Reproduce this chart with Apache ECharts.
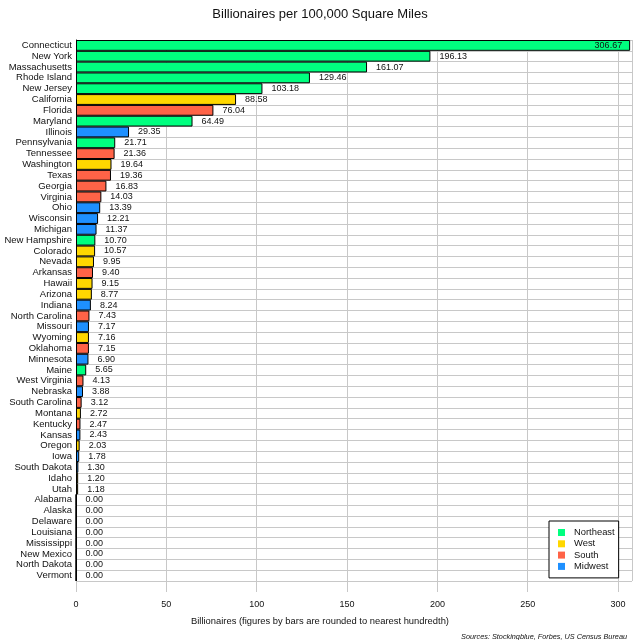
<!DOCTYPE html>
<html>
<head>
<meta charset="utf-8">
<script src="https://cdn.jsdelivr.net/npm/echarts@6/dist/echarts.min.js"></script>
<style>
html, body { margin: 0; padding: 0; background: #fff; }
#chart { width: 640px; height: 640px; }
</style>
</head>
<body>
<div id="chart"></div>
<script>
// states, top to bottom
const states = ['Connecticut', 'New York', 'Massachusetts', 'Rhode Island', 'New Jersey',
	'California', 'Florida', 'Maryland', 'Illinois', 'Pennsylvania', 'Tennessee', 'Washington',
	'Texas', 'Georgia', 'Virginia', 'Ohio', 'Wisconsin', 'Michigan', 'New Hampshire', 'Colorado',
	'Nevada', 'Arkansas', 'Hawaii', 'Arizona', 'Indiana', 'North Carolina', 'Missouri', 'Wyoming',
	'Oklahoma', 'Minnesota', 'Maine', 'West Virginia', 'Nebraska', 'South Carolina', 'Montana',
	'Kentucky', 'Kansas', 'Oregon', 'Iowa', 'South Dakota', 'Idaho', 'Utah', 'Alabama', 'Alaska',
	'Delaware', 'Louisiana', 'Mississippi', 'New Mexico', 'North Dakota', 'Vermont'];

const values = [306.67, 196.13, 161.07, 129.46, 103.18, 88.58, 76.04, 64.49, 29.35, 21.71,
	21.36, 19.64, 19.36, 16.83, 14.03, 13.39, 12.21, 11.37, 10.70, 10.57, 9.95, 9.40, 9.15, 8.77,
	8.24, 7.43, 7.17, 7.16, 7.15, 6.90, 5.65, 4.13, 3.88, 3.12, 2.72, 2.47, 2.43, 2.03, 1.78,
	1.30, 1.20, 1.18, 0, 0, 0, 0, 0, 0, 0, 0];

// N = Northeast, W = West, S = South, M = Midwest
const regionOf = ['N', 'N', 'N', 'N', 'N', 'W', 'S', 'N', 'M', 'N', 'S', 'W', 'S', 'S', 'S',
	'M', 'M', 'M', 'N', 'W', 'W', 'S', 'W', 'W', 'M', 'S', 'M', 'W', 'S', 'M', 'N', 'S', 'M',
	'S', 'W', 'S', 'M', 'W', 'M', 'M', 'W', 'W', 'S', 'W', 'S', 'S', 'S', 'W', 'M', 'N'];

const regions = [
	{ key: 'N', name: 'Northeast', color: '#00ff7f' },
	{ key: 'W', name: 'West', color: '#ffd700' },
	{ key: 'S', name: 'South', color: '#ff6347' },
	{ key: 'M', name: 'Midwest', color: '#1e90ff' }
];

const font = 'Liberation Sans, Arial, sans-serif';
const xMax = 307.7;

const myChart = echarts.init(document.getElementById('chart'));

const series = regions.map(function (r) {
	return {
		name: r.name,
		type: 'bar',
		stack: 'all',
		barCategoryGap: '0%',
		itemStyle: { color: r.color, borderColor: '#000', borderWidth: 1 },
		label: {
			show: true,
			position: 'right',
			distance: 9,
			color: '#111',
			fontSize: 9,
			fontFamily: font,
			formatter: function (p) { return p.value.toFixed(2); }
		},
		data: values.map(function (v, i) {
			if (regionOf[i] !== r.key) return '-';
			// the widest bar keeps its label inside
			if (v > xMax * 0.9) return { value: v, label: { position: 'insideRight', distance: 8 } };
			return v;
		})
	};
});

const option = {
	animation: false,
	backgroundColor: '#fff',
	color: regions.map(function (r) { return r.color; }),
	textStyle: { fontFamily: font },
	title: [
		{ text: 'Billionaires per 100,000 Square Miles', left: 'center', top: 3,
			textStyle: { fontSize: 13, fontWeight: 'normal', color: '#111', fontFamily: font } },
		{ text: 'Billionaires (figures by bars are rounded to nearest hundredth)', left: 'center', top: 612,
			textStyle: { fontSize: 9.4, fontWeight: 'normal', color: '#111', fontFamily: font } },
		{ text: 'Sources: Stockingblue, Forbes, US Census Bureau', right: 8, top: 628,
			textStyle: { fontSize: 7.3, fontWeight: 'normal', fontStyle: 'italic', color: '#111', fontFamily: font } }
	],
	legend: {
		orient: 'vertical',
		left: 549,
		top: 521,
		backgroundColor: '#fff',
		borderColor: '#000',
		borderWidth: 1,
		padding: [6, 4, 6, 9],
		icon: 'rect',
		itemWidth: 7,
		itemHeight: 7,
		itemGap: 0.3,
		itemStyle: { borderWidth: 0 },
		textStyle: { fontSize: 9.4, lineHeight: 11, color: '#111', fontFamily: font, padding: [0, 0, 0, 4] },
		data: regions.map(function (r) { return r.name; })
	},
	grid: { left: 76, right: 8, top: 40, bottom: 59, containLabel: false, outerBoundsMode: 'none' },
	xAxis: {
		type: 'value',
		min: 0,
		max: xMax,
		interval: 50,
		axisLine: { show: false },
		axisTick: { show: true, length: 11, lineStyle: { color: '#c8c8c8' } },
		axisLabel: { margin: 19, fontSize: 9, color: '#111', fontFamily: font, showMaxLabel: false },
		splitLine: { show: true, lineStyle: { color: '#c8c8c8' } }
	},
	yAxis: {
		type: 'category',
		inverse: true,
		data: states,
		axisLine: { show: true, lineStyle: { color: '#000' } },
		axisTick: { show: false },
		axisLabel: { margin: 4, fontSize: 9.5, color: '#111', fontFamily: font, interval: 0 },
		splitLine: { show: true, interval: 0, lineStyle: { color: '#c8c8c8' } }
	},
	series: series
};

myChart.setOption(option);
</script>
</body>
</html>
